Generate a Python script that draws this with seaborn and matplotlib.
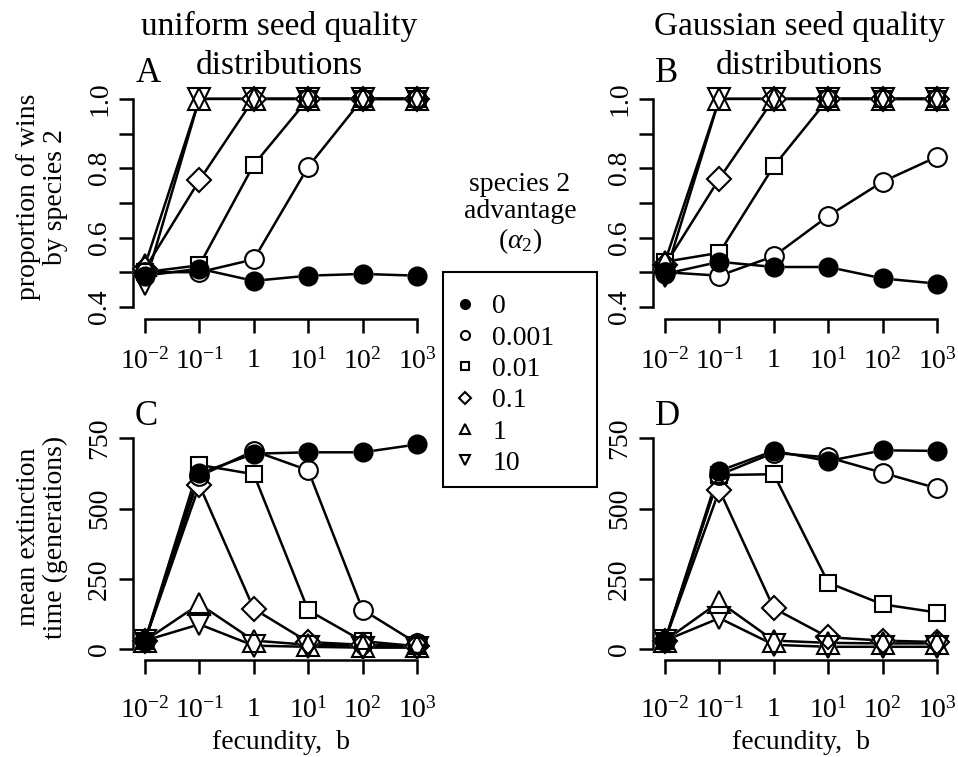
import matplotlib
matplotlib.use('Agg')
import matplotlib.pyplot as plt
from matplotlib.lines import Line2D
from matplotlib.patches import Rectangle
import seaborn as sns

# fecundity values (x) and species 2 advantage levels
fecundity = [0.01, 0.1, 1, 10, 100, 1000]
xtick_labels = ['$10^{-2}$', '$10^{-1}$', '1', '$10^{1}$', '$10^{2}$', '$10^{3}$']
alpha_labels = ['0', '0.001', '0.01', '0.1', '1', '10']

# A: proportion of wins by species 2, uniform seed quality
wins_uniform = [
    [0.49, 0.51, 0.475, 0.49, 0.495, 0.49],
    [0.50, 0.50, 0.537, 0.804, 1.0, 1.0],
    [0.50, 0.52, 0.81, 1.0, 1.0, 1.0],
    [0.51, 0.765, 1.0, 1.0, 1.0, 1.0],
    [0.52, 1.0, 1.0, 1.0, 1.0, 1.0],
    [0.465, 1.0, 1.0, 1.0, 1.0, 1.0],
]
# B: proportion of wins by species 2, Gaussian seed quality
wins_gauss = [
    [0.495, 0.53, 0.515, 0.515, 0.482, 0.467],
    [0.50, 0.49, 0.546, 0.662, 0.761, 0.833],
    [0.53, 0.556, 0.806, 1.0, 1.0, 1.0],
    [0.52, 0.77, 1.0, 1.0, 1.0, 1.0],
    [0.53, 1.0, 1.0, 1.0, 1.0, 1.0],
    [0.49, 1.0, 1.0, 1.0, 1.0, 1.0],
]
# C: mean extinction time, uniform seed quality
ext_uniform = [
    [30, 625, 695, 700, 700, 728],
    [30, 615, 705, 636, 140, 20],
    [30, 655, 622, 138, 28, 10],
    [30, 583, 143, 25, 15, 10],
    [30, 160, 30, 15, 12, 10],
    [30, 88, 12, 8, 5, 5],
]
# D: mean extinction time, Gaussian seed quality
ext_gauss = [
    [30, 634, 705, 669, 707, 705],
    [30, 620, 698, 682, 627, 572],
    [30, 619, 622, 236, 159, 130],
    [30, 566, 145, 42, 30, 25],
    [30, 168, 30, 22, 20, 20],
    [30, 110, 15, 8, 8, 8],
]

markers = ['o', 'o', 's', 'D', '^', 'v']
msizes = [13, 13.5, 12, 12, 16, 16]
legend_ms = [6.5, 6.5, 6, 6, 7.5, 7.5]

sns.set_style('ticks')
plt.rcParams['font.family'] = ['Liberation Serif', 'DejaVu Serif']
plt.rcParams['mathtext.fontset'] = 'custom'
plt.rcParams['mathtext.rm'] = 'Liberation Serif'
plt.rcParams['mathtext.it'] = 'Liberation Serif:italic'
for key in ['text.color', 'axes.labelcolor', 'xtick.color', 'ytick.color', 'axes.edgecolor']:
    plt.rcParams[key] = 'black'

W, H = 958, 757
fig = plt.figure(figsize=(W / 100, H / 100), dpi=100)


def px_axes(left, right, top, bottom):
    return fig.add_axes([left / W, 1 - bottom / H, (right - left) / W, (bottom - top) / H])


def draw_panel(ax, series, ylim, yticks, ylabels, ybounds, xpad):
    ax.set_xscale('log')
    for vals in series:
        sns.lineplot(x=fecundity, y=vals, color='k', lw=1.8, ax=ax,
                     zorder=2, legend=False)
    # white knock-outs give the gaps of R's type="b"
    for vals, m, s in zip(series, markers, msizes):
        sns.lineplot(x=fecundity, y=vals, color='w', linestyle='none', marker=m,
                     ms=s, mfc='white', mec='white', mew=1.5, ax=ax,
                     zorder=3, legend=False, clip_on=False)
    for i, (vals, m, s) in enumerate(zip(series, markers, msizes)):
        sns.lineplot(x=fecundity, y=vals, color='k', linestyle='none', marker=m,
                     ms=s, mfc='k' if i == 0 else 'none', mec='k', mew=1.5,
                     ax=ax, zorder=5 if i == 0 else 4, legend=False, clip_on=False)
    ax.set_xlim(10 ** -2.22, 10 ** 3.22)
    ax.set_ylim(*ylim)
    ax.set_xticks(fecundity)
    ax.set_xticklabels(xtick_labels)
    ax.minorticks_off()
    ax.set_yticks(yticks)
    ax.set_yticklabels(ylabels)
    plt.setp(ax.get_yticklabels(), rotation=90, va='center')
    ax.tick_params(length=10, width=1.8, labelsize=20, color='k')
    ax.tick_params(axis='y', pad=5)
    ax.tick_params(axis='x', pad=xpad)
    sns.despine(ax=ax)
    ax.spines['left'].set_bounds(*ybounds)
    ax.spines['bottom'].set_bounds(0.01, 1000)
    for sp in ['left', 'bottom']:
        ax.spines[sp].set_linewidth(1.8)
        ax.spines[sp].set_color('k')
    ax.set_xlabel('')
    ax.set_ylabel('')
    ax.patch.set_alpha(0)


top_ticks = [0.4, 0.5, 0.6, 0.7, 0.8, 0.9, 1.0]
top_labels = ['0.4', '', '0.6', '', '0.8', '', '1.0']
bot_ticks = [0, 250, 500, 750]
bot_labels = ['0', '250', '500', '750']

axA = px_axes(133, 429, 85, 319)
axB = px_axes(653, 949, 85, 319)
axC = px_axes(133, 429, 427, 660)
axD = px_axes(653, 949, 427, 660)

draw_panel(axA, wins_uniform, (0.365, 1.04), top_ticks, top_labels, (0.4, 1.0), 10.8)
draw_panel(axB, wins_gauss, (0.365, 1.04), top_ticks, top_labels, (0.4, 1.0), 10.8)
draw_panel(axC, ext_uniform, (-39, 790), bot_ticks, bot_labels, (0, 750), 17)
draw_panel(axD, ext_gauss, (-39, 790), bot_ticks, bot_labels, (0, 750), 17)

for ax in (axC, axD):
    ax.set_xlabel('fecundity,  b', fontsize=20, labelpad=4.5)


def ftext(x, y, s, size=20, va='center', **kw):
    fig.text(x / W, 1 - y / H, s, fontsize=size, ha='center', va=va, **kw)


ftext(279, 35, 'uniform seed quality', size=24, va='baseline')
ftext(279, 74, 'distributions', size=24, va='baseline')
ftext(799, 35, 'Gaussian seed quality', size=24, va='baseline')
ftext(799, 74, 'distributions', size=24, va='baseline')
ftext(148, 82, 'A', size=25, va='baseline')
ftext(667, 82, 'B', size=25, va='baseline')
ftext(146, 425, 'C', size=25, va='baseline')
ftext(667, 425, 'D', size=25, va='baseline')
ftext(42, 197, 'proportion of wins\nby species 2', rotation=90, linespacing=1.1)
ftext(42, 537, 'mean extinction\ntime (generations)', rotation=90, linespacing=1.1)
ftext(520, 214, 'species 2\nadvantage\n($\\alpha_2$)', linespacing=1.12)

# legend box drawn separately, entries placed inside it
fig.patches.append(Rectangle((443 / W, 1 - 487 / H), 154 / W, 215 / H,
                             transform=fig.transFigure, fill=False,
                             edgecolor='k', linewidth=1.5))
handles = [Line2D([], [], linestyle='none', marker=m, ms=s, color='k',
                  mfc='k' if i == 0 else 'none', mec='k', mew=1.5)
           for i, (m, s) in enumerate(zip(markers, legend_ms))]
fig.legend(handles, alpha_labels, loc='upper left',
           bbox_to_anchor=(454 / W, 1 - 294 / H), borderaxespad=0,
           borderpad=0, frameon=False, fontsize=20, handlelength=0.8,
           handletextpad=0.58, labelspacing=0.21)

fig.savefig('out.png', dpi=100)
